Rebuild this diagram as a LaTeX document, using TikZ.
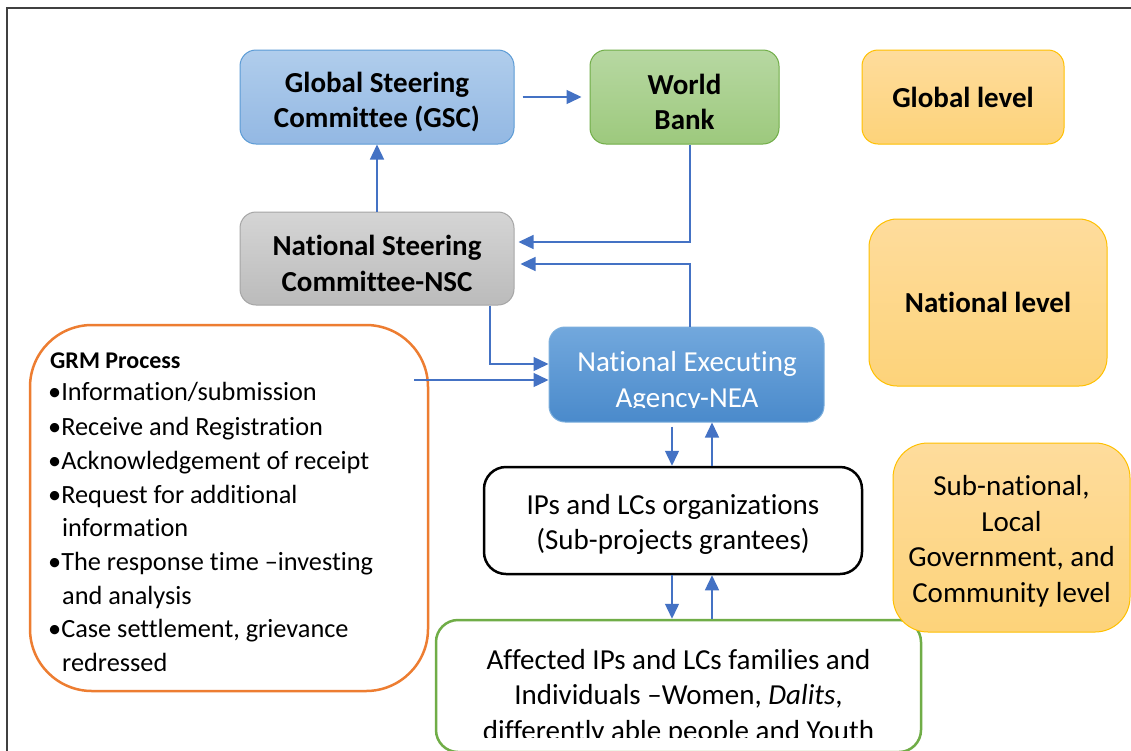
\documentclass[tikz,border=0pt]{standalone}
\usepackage{fontspec}
\setmainfont{Carlito}[Ligatures=NoCommon]
\usetikzlibrary{arrows.meta,calc}

\definecolor{arrowblue}{HTML}{4472C4}
\definecolor{framegray}{HTML}{404040}
\definecolor{gscTop}{HTML}{B0CDEC}
\definecolor{gscBot}{HTML}{93B8E3}
\definecolor{gscLine}{HTML}{5B9BD5}
\definecolor{wbTop}{HTML}{B7D8A2}
\definecolor{wbBot}{HTML}{9DC97D}
\definecolor{wbLine}{HTML}{70AD47}
\definecolor{nscTop}{HTML}{D5D5D5}
\definecolor{nscBot}{HTML}{BBBBBB}
\definecolor{nscLine}{HTML}{A5A5A5}
\definecolor{neaTop}{HTML}{72A8DD}
\definecolor{neaBot}{HTML}{4A8ACB}
\definecolor{lvlTop}{HTML}{FEDC9C}
\definecolor{lvlBot}{HTML}{FDD37A}
\definecolor{lvlLine}{HTML}{FFC000}
\definecolor{grmLine}{HTML}{ED7D31}

\tikzset{
  bigfont/.style={font=\fontsize{29}{35.5}\selectfont},
  boldfont/.style={font=\bfseries\fontsize{29}{35.5}\selectfont},
  grmfont/.style={font=\fontsize{26.3}{34}\selectfont},
  box/.style={rounded corners=16pt, line width=1pt, inner sep=0pt, align=center},
  label text/.style={inner sep=0pt, align=center},
  gscbox/.style={box, draw=gscLine, top color=gscTop, bottom color=gscBot},
  wbbox/.style={box, draw=wbLine, top color=wbTop, bottom color=wbBot},
  nscbox/.style={box, draw=nscLine, top color=nscTop, bottom color=nscBot},
  neabox/.style={box, draw=gscLine!80, top color=neaTop, bottom color=neaBot},
  lvlbox/.style={box, draw=lvlLine, top color=lvlTop, bottom color=lvlBot},
  outlinebox/.style={box, line width=2.5pt, fill=white},
  arr/.style={draw=arrowblue, line width=1.4pt, -{Triangle[length=15pt,width=14pt]}},
  grmline/.style={grmfont, anchor=base west, inner sep=0pt},
}

\begin{document}
\begin{tikzpicture}[x=1pt, y=-1pt]
  \useasboundingbox (0,0) rectangle (1131,750);
  \clip (0,0) rectangle (1131,750);
  \fill[white] (0,0) rectangle (1131,750);

  % outer frame
  \draw[framegray, line width=2pt] (7,770) -- (7,8) -- (1150,8);

  % top level
  \node[gscbox, minimum width=274pt, minimum height=94pt] (gsc) at (377,97) {};
  \node[label text, boldfont] (gsctext) at (377,102) {Global Steering\\Committee (GSC)};
  \node[wbbox, minimum width=189pt, minimum height=94pt] (wb) at (684.5,97) {};
  \node[label text, boldfont] (wbtext) at (684.5,102) {World\\Bank};
  \node[lvlbox, boldfont, minimum width=202pt, minimum height=94pt] (glevel) at (963,97)
    {Global level};

  % national level
  \node[nscbox, minimum width=274pt, minimum height=93pt] (nsc) at (377,258.5) {};
  \node[label text, boldfont] (nsctext) at (377,263.5) {National Steering\\Committee-NSC};
  \node[lvlbox, boldfont, rounded corners=28pt, minimum width=238pt, minimum height=167pt] (nlevel) at (988,302.5)
    {National level};
  \node[neabox, minimum width=275pt, minimum height=95pt] (nea) at (686.5,374.5) {};
  \begin{scope}
    \clip (549,327) rectangle (824,407);
    \node[label text, bigfont, text=white] (neatext) at (687,382)
      {National Executing\\Agency-NEA};
  \end{scope}

  % GRM process box
  \node[outlinebox, draw=grmLine, rounded corners=62pt, minimum width=398pt, minimum height=366pt] (grm) at (229,508) {};
  \node[grmline, font=\bfseries\fontsize{24}{30}\selectfont] (g0) at (50,368) {GRM Process};
  \node[grmline] (g1) at (48,400) {•Information/submission};
  \node[grmline] (g2) at (48,435) {•Receive and Registration};
  \node[grmline] (g3) at (48,469) {•Acknowledgement of receipt};
  \node[grmline] (g4) at (48,503) {•Request for additional};
  \node[grmline] (g5) at (62,536) {information};
  \node[grmline] (g6) at (48,570) {•The response time –investing};
  \node[grmline] (g7) at (62,604) {and analysis};
  \node[grmline] (g8) at (48,637) {•Case settlement, grievance};
  \node[grmline] (g9) at (62,671) {redressed};

  % local level
  \node[outlinebox, draw=black, rounded corners=22pt, minimum width=378pt, minimum height=107pt] (ips) at (673,520.5) {};
  \node[label text, bigfont] (ipstext) at (673,524.5) {IPs and LCs organizations\\(Sub-projects grantees)};
  \node[outlinebox, draw=wbLine, rounded corners=22pt, minimum width=485pt, minimum height=132pt] (aff) at (678.5,686) {};
  \begin{scope}
    \clip (436,620) rectangle (921,737);
    \node[label text, bigfont] (afftext) at (678.5,697)
      {Affected IPs and LCs families and\\Individuals –Women, \textit{Dalits},\\differently able people and Youth};
  \end{scope}
  \node[lvlbox, rounded corners=35pt, minimum width=237pt, minimum height=189pt] (slevel) at (1011.5,537.5) {};
  \node[label text, bigfont] (sleveltext) at (1011.5,541.5)
    {Sub-national,\\Local\\Government, and\\Community level};

  % connectors
  \draw[arr, shorten <=8pt, shorten >=8pt] (gsc.east) -- (wb.west);
  \draw[arr] (nsc.north) -- (gsc.south);
  \draw[arr] ([xshift=5.5pt]wb.south) |- ([xshift=4pt,yshift=16.5pt]nsc.east);
  \draw[arr] ([xshift=3.5pt]nea.north) |- ([xshift=6pt,yshift=-5.5pt]nsc.east);
  \draw[arr] ([xshift=113pt]nsc.south) |- ([yshift=10.5pt]nea.west);
  \draw[arr] ([xshift=-15pt,yshift=128pt]grm.east) -- ([yshift=-5.5pt]nea.west);
  \draw[arr, shorten <=4pt] ([xshift=-14.5pt]nea.south) -- ([xshift=-14.5pt]nea.south |- ips.north);
  \draw[arr] ([xshift=39pt]ips.north) -- ([xshift=39pt]ips.north |- nea.south);
  \draw[arr] ([xshift=-1pt]ips.south) -- ([xshift=-1pt]ips.south |- aff.north);
  \draw[arr] ([xshift=39pt]ips.south |- aff.north) -- ([xshift=39pt]ips.south);
\end{tikzpicture}
\end{document}
